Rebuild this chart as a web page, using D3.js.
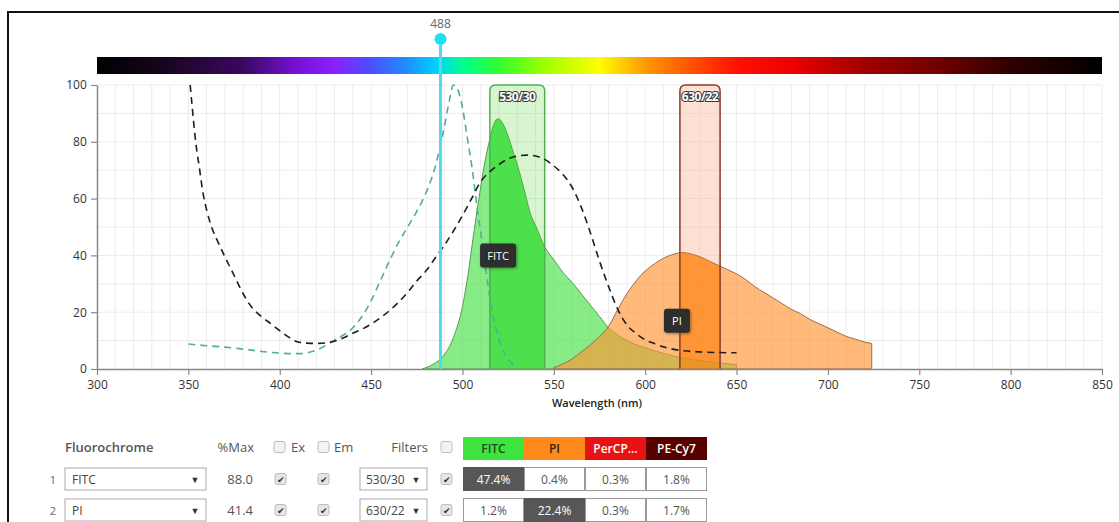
<!DOCTYPE html>
<html><head><meta charset="utf-8">
<script src="https://cdn.jsdelivr.net/npm/d3@7"></script>
<style>
html,body{margin:0;padding:0;background:#fff;}
svg{display:block;font-family:"Open Sans",sans-serif;}
</style></head><body>
<svg id="chart" width="1119" height="522"></svg>
<script>
// ---------- DATA ----------
const xTicks = [300,350,400,450,500,550,600,650,700,750,800,850];
const yTicks = [0,20,40,60,80,100];
const laserWl = 488;

// FITC excitation (teal dashed)
const fitcExWl  = [350,360,370,380,390,400,410,420,430,440,445,450,455,460,465,470,475,480,485,488,490,493,495,497,500,503,505,508,510,513,515,518,520,523,525,528,530];
const fitcExVal = [8.8,8.2,7.7,7.0,6.2,5.6,5.4,6.6,10.2,14.5,18.5,24,31,38,44.5,50,55.5,62,71,79,85,95,100,99,92,80,72,57,48,34,25,15,10.5,5.5,3.5,1.5,0.8];
// PI excitation (black dashed)
const piExWl  = [351,352,354,356,358,360,363,366,370,375,380,385,390,395,400,405,410,415,420,425,430,435,440,445,450,455,460,465,470,475,480,485,490,495,500,505,510,515,520,525,530,535,540,545,550,555,560,565,570,575,580,585,590,595,600,605,610,615,620,630,640,650];
const piExVal = [100,93,80,71,62,56,49.5,45,39.5,33,26.5,21.5,18.5,16,13.5,11.2,9.5,9.1,9,9.2,9.8,11,12.6,14,15.8,18,20.5,23.5,27,31,34.5,39,43.5,48.5,54,60,66,69.5,72,74,75,75.3,75,73.8,71.5,68.5,64,57,48,38,29,21,15.5,12.5,10.3,9,7.8,7,6.5,6,5.8,5.7];
// FITC emission (green area)
const fitcEmWl  = [478,482,486,490,495,500,503,506,509,512,515,517,519,520,522,525,528,530,535,537,540,545,550,555,560,565,570,575,580,585,590,600,610,620,630,640,650];
const fitcEmVal = [0,1,2.5,5,11,22,33,47,60,72,81,86,88,88,86.5,82,76,72,60,55,50.5,43,38.5,34,30.5,26.5,22.5,18.5,14.5,12,10,7.5,5.5,4,3,2.2,1.5];
// PI emission (orange area)
const piEmWl  = [550,555,560,565,570,575,580,585,590,595,600,605,610,615,620,625,630,635,640,645,650,655,660,665,670,675,680,685,690,695,700,705,710,715,720,724];
const piEmVal = [0.5,1.8,3.5,6,8.5,11.5,15,21,26.5,31,34.5,37,39,40.3,41,40.5,39.5,38,36.5,35,33.5,31.5,29,27,25,23,21,19.5,17.5,16,14.5,13,11.5,10.5,9.5,9];

// Filters
const filterCenters = [530, 630];
const filterWidths  = [30, 22];
const filterLabels  = ["530/30", "630/22"];

// Dye labels
const dyeNames = ["FITC", "PI"];
const dyeLabelWl  = [519.5, 617.4];
const dyeLabelVal = [40, 17];

// Spectrum bar colour stops
const specWl  = [300,340,380,410,430,450,470,485,500,520,545,575,600,620,650,680,720,760,800,850];
const specCol = ["#000000","#1a0520","#3a0860","#7a10d8","#8a20ff","#4a50ff","#1e90ff","#00d0ff","#00ff90","#30ff30","#a0ff00","#ffff00","#ff9900","#ff6000","#ff1000","#ee0000","#a00000","#700000","#300000","#000000"];

// Table
const fluoros  = ["FITC", "PI"];
const pctMax   = ["88.0", "41.4"];
const filtSel  = ["530/30", "630/22"];
const channels = ["FITC", "PI", "PerCP...", "PE-Cy7"];
const chanBg   = ["#3de43d", "#ff8a1c", "#e81212", "#560000"];
const chanFg   = ["#1f4a1f", "#3a2208", "#ffffff", "#ffffff"];
const spill    = [["47.4%","0.4%","0.3%","1.8%"],["1.2%","22.4%","0.3%","1.7%"]];

// ---------- DRAW ----------
const svg = d3.select("#chart");
const x = d3.scaleLinear().domain([300,850]).range([97,1102]);
const y = d3.scaleLinear().domain([0,100]).range([369,85]);
const defs = svg.append("defs");

// frame
svg.append("line").attr("x1",7).attr("x2",1119).attr("y1",12).attr("y2",12).attr("stroke","#111").attr("stroke-width",2);
svg.append("line").attr("x1",8).attr("x2",8).attr("y1",12).attr("y2",522).attr("stroke","#111").attr("stroke-width",2);

// grid
const grid = svg.append("g");
grid.selectAll(".gx").data(d3.range(310,851,10)).enter().append("line")
  .attr("x1",d=>x(d)).attr("x2",d=>x(d)).attr("y1",y(100)).attr("y2",y(0))
  .attr("stroke","#ebebeb").attr("stroke-width",1);
grid.selectAll(".gy").data(d3.range(10,101,10)).enter().append("line")
  .attr("x1",x(300)).attr("x2",x(850)).attr("y1",d=>y(d)).attr("y2",d=>y(d))
  .attr("stroke","#ebebeb").attr("stroke-width",1);

// spectrum bar
const grad = defs.append("linearGradient").attr("id","spec").attr("gradientUnits","userSpaceOnUse")
  .attr("x1",x(300)).attr("x2",x(850)).attr("y1",0).attr("y2",0);
specWl.forEach((w,i)=>grad.append("stop").attr("offset",(w-300)/550).attr("stop-color",specCol[i]));
svg.append("rect").attr("x",x(300)).attr("y",57).attr("width",x(850)-x(300)).attr("height",17).attr("fill","url(#spec)");

// filter bands (fill)
function bandPath(lo,hi,r){
  const x0=x(lo), x1=x(hi), y0=y(100), y1=y(0);
  return `M${x0},${y1}V${y0+r}Q${x0},${y0} ${x0+r},${y0}H${x1-r}Q${x1},${y0} ${x1},${y0+r}V${y1}`;
}
const bandFill = ["rgba(140,230,120,0.35)","rgba(250,190,160,0.45)"];
const bandStroke = ["#4fb04f","#8a3b2a"];
filterCenters.forEach((c,i)=>{
  const lo=c-filterWidths[i]/2, hi=c+filterWidths[i]/2;
  svg.append("path").attr("d",bandPath(lo,hi,6)+"Z").attr("fill",bandFill[i]).attr("stroke","none");
  defs.append("clipPath").attr("id","band"+i).append("rect")
    .attr("x",x(lo)).attr("y",y(100)).attr("width",x(hi)-x(lo)).attr("height",y(0)-y(100));
});

const zip = (a,b)=>a.map((w,i)=>[w,b[i]]);
const area = d3.area().x(d=>x(d[0])).y0(y(0)).y1(d=>y(d[1])).curve(d3.curveMonotoneX);
const line = d3.line().x(d=>x(d[0])).y(d=>y(d[1])).curve(d3.curveMonotoneX);

const fitcEm = zip(fitcEmWl,fitcEmVal), piEm = zip(piEmWl,piEmVal);

// FITC emission
svg.append("path").attr("d",area(fitcEm)).attr("fill","#4ee24e").attr("fill-opacity",0.68)
  .attr("stroke","#5d9a4d").attr("stroke-width",1);
svg.append("path").attr("d",area(fitcEm)).attr("clip-path","url(#band0)").attr("fill","#2fd82f").attr("fill-opacity",0.6);
// PI emission
svg.append("path").attr("d",area(piEm)).attr("fill","#ff9330").attr("fill-opacity",0.64)
  .attr("stroke","#a06a4a").attr("stroke-width",1);
svg.append("path").attr("d",area(piEm)).attr("clip-path","url(#band1)").attr("fill","#ff7a00").attr("fill-opacity",0.5);

// band outlines + labels
filterCenters.forEach((c,i)=>{
  const lo=c-filterWidths[i]/2, hi=c+filterWidths[i]/2;
  svg.append("path").attr("d",bandPath(lo,hi,6)).attr("fill","none").attr("stroke",bandStroke[i]).attr("stroke-width",1.5);
  svg.append("text").attr("x",x(c)).attr("y",y(100)+11).attr("text-anchor","middle").attr("dominant-baseline","central")
    .attr("font-size",12).attr("font-weight",700).attr("letter-spacing",-0.5)
    .attr("fill","#fff").attr("stroke","#3a3a3a").attr("stroke-width",2.2).attr("paint-order","stroke")
    .text(filterLabels[i]);
});

// excitation curves
svg.append("path").attr("d",line(zip(fitcExWl,fitcExVal))).attr("fill","none")
  .attr("stroke","#4fae9c").attr("stroke-width",1.6).attr("stroke-dasharray","7,5");
svg.append("path").attr("d",line(zip(piExWl,piExVal))).attr("fill","none")
  .attr("stroke","#1e1e1e").attr("stroke-width",1.6).attr("stroke-dasharray","7,5");

// axes
const axisColor = "#888";
const gx = svg.append("g").attr("transform",`translate(0,${y(0)})`)
  .call(d3.axisBottom(x).tickValues(xTicks).tickSize(6).tickSizeOuter(0));
const gy = svg.append("g").attr("transform",`translate(${x(300)},0)`)
  .call(d3.axisLeft(y).tickValues(yTicks).tickSize(6).tickSizeOuter(0));
[gx,gy].forEach(g=>{
  g.select(".domain").attr("stroke",axisColor).attr("stroke-width",1.5);
  g.selectAll(".tick line").attr("stroke",axisColor).attr("stroke-width",1.2);
  g.selectAll(".tick text").attr("font-family","Open Sans, sans-serif").attr("font-size",12).attr("fill","#333");
});
gx.selectAll(".tick text").attr("dy","0.9em");
gy.selectAll(".tick text").attr("dx","-0.1em");

svg.append("text").attr("x",597).attr("y",402).attr("text-anchor","middle").attr("dominant-baseline","central")
  .attr("font-size",11).attr("font-weight",600).attr("fill","#222").text("Wavelength (nm)");

// laser line
svg.append("line").attr("x1",x(laserWl)).attr("x2",x(laserWl)).attr("y1",39).attr("y2",y(0))
  .attr("stroke","#4fdbe8").attr("stroke-width",3);
svg.append("circle").attr("cx",x(laserWl)).attr("cy",39).attr("r",6).attr("fill","#1fe0ee");
svg.append("text").attr("x",x(laserWl)).attr("y",23).attr("text-anchor","middle").attr("dominant-baseline","central")
  .attr("font-size",12).attr("fill","#666").text(laserWl);

// dye labels
const shadow = defs.append("filter").attr("id","sh").attr("x","-30%").attr("y","-30%").attr("width","160%").attr("height","160%");
shadow.append("feDropShadow").attr("dx",1).attr("dy",1).attr("stdDeviation",1.5).attr("flood-color","#000").attr("flood-opacity",0.4);
dyeNames.forEach((n,i)=>{
  const cx=x(dyeLabelWl[i]), cy=y(dyeLabelVal[i]);
  const w = n.length>2 ? 36 : 26, h=24;
  svg.append("rect").attr("x",cx-w/2).attr("y",cy-h/2).attr("width",w).attr("height",h).attr("rx",3)
    .attr("fill","#2e2e2e").attr("filter","url(#sh)");
  svg.append("text").attr("x",cx).attr("y",cy).attr("text-anchor","middle").attr("dominant-baseline","central")
    .attr("font-size",11).attr("fill","#fff").text(n);
});

// ---------- TABLE ----------
const tbl = svg.append("g").attr("font-size",12).attr("fill","#555");
function txt(xp,yp,s,opt={}){
  return tbl.append("text").attr("x",xp).attr("y",yp).attr("dominant-baseline","central")
    .attr("text-anchor",opt.anchor||"start").attr("font-size",opt.size||12)
    .attr("font-weight",opt.weight||400).attr("fill",opt.fill||"#555").text(s);
}
function checkbox(xp,yc,checked){
  tbl.append("rect").attr("x",xp).attr("y",yc-5.5).attr("width",11).attr("height",11).attr("rx",2)
    .attr("fill",checked?"#e6e6e6":"#f3f3f3").attr("stroke","#bdbdbd");
  if(checked) txt(xp+5.5,yc+0.5,"✔",{anchor:"middle",size:9,fill:"#333"});
}
const hy = 447;
txt(65,hy,"Fluorochrome",{size:13,weight:600});
txt(254,hy,"%Max",{size:13,anchor:"end"});
checkbox(274,hy,false); txt(291,hy,"Ex",{size:13});
checkbox(318,hy,false); txt(334,hy,"Em",{size:13});
txt(428,hy,"Filters",{size:13,anchor:"end"});
checkbox(441,hy,false);
const cx0=463, cw=61;
channels.forEach((c,j)=>{
  tbl.append("rect").attr("x",cx0+j*cw).attr("y",437).attr("width",cw).attr("height",23).attr("fill",chanBg[j]);
  txt(cx0+j*cw+cw/2,448.5,c,{anchor:"middle",weight:600,fill:chanFg[j],size:12});
});
const rowY = [479,510];
fluoros.forEach((f,i)=>{
  const yc=rowY[i];
  txt(53,yc,String(i+1),{anchor:"middle",size:11,fill:"#666"});
  tbl.append("rect").attr("x",65).attr("y",yc-11).attr("width",141).attr("height",22).attr("fill","#fff").attr("stroke","#aaa");
  txt(72,yc,f,{fill:"#444"});
  txt(195,yc,"▼",{anchor:"middle",size:9,fill:"#333"});
  txt(253,yc,pctMax[i],{anchor:"end",size:13,fill:"#555"});
  checkbox(275,yc,true); checkbox(318,yc,true);
  tbl.append("rect").attr("x",360).attr("y",yc-11).attr("width",67).attr("height",22).attr("fill","#fff").attr("stroke","#aaa");
  txt(366,yc,filtSel[i],{fill:"#444"});
  txt(416,yc,"▼",{anchor:"middle",size:9,fill:"#333"});
  checkbox(441,yc,true);
  spill[i].forEach((v,j)=>{
    const dark = (i===j);
    tbl.append("rect").attr("x",cx0+j*cw+0.5).attr("y",yc-11.5).attr("width",cw-1).attr("height",23)
      .attr("fill",dark?"#575757":"#fff").attr("stroke",dark?"#575757":"#999");
    txt(cx0+j*cw+cw/2,yc,v,{anchor:"middle",fill:dark?"#fff":"#555",size:12});
  });
});
</script>
</body></html>
